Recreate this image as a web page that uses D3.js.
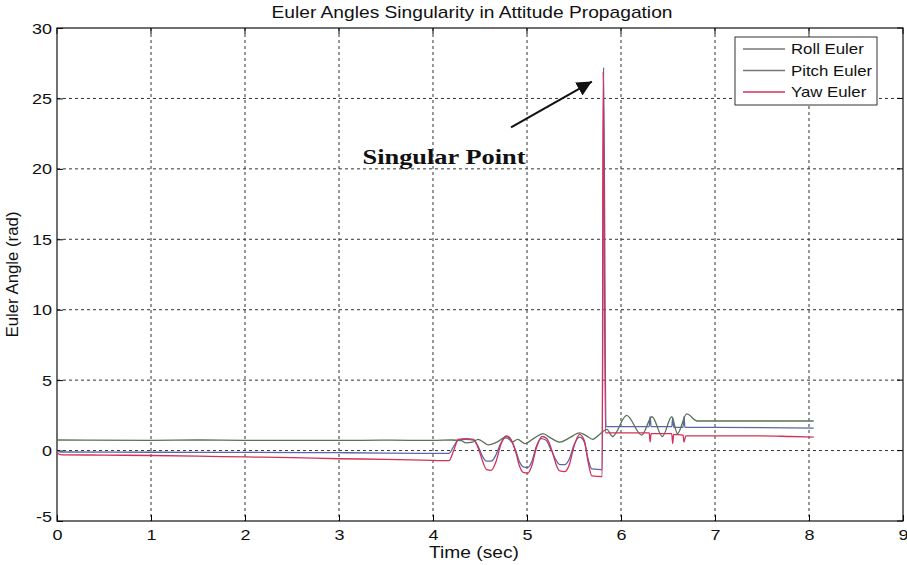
<!DOCTYPE html>
<html>
<head>
<meta charset="utf-8">
<script src="https://cdn.jsdelivr.net/npm/d3@7/dist/d3.min.js"></script>
<style>
  html, body { margin: 0; padding: 0; background: #fff; }
  svg { display: block; }
</style>
</head>
<body>
<svg id="chart" width="907" height="565"></svg>
<script>
// ---- data ----
const title = "Euler Angles Singularity in Attitude Propagation";
const xLabel = "Time (sec)";
const yLabel = "Euler Angle (rad)";
const xTicks = [0, 1, 2, 3, 4, 5, 6, 7, 8, 9];
const yTicks = [-5, 0, 5, 10, 15, 20, 25, 30];
const seriesNames = ["Roll Euler", "Pitch Euler", "Yaw Euler"];

const rollT = [0, 0.05, 1, 2, 3, 3.5, 4.0, 4.17, 4.22, 4.27, 4.35, 4.43, 4.48, 4.53, 4.57, 4.62, 4.67, 4.72, 4.77, 4.83, 4.88, 4.92, 4.96, 5.01, 5.05, 5.10, 5.15, 5.20, 5.26, 5.31, 5.35, 5.40, 5.45, 5.50, 5.56, 5.61, 5.65, 5.69, 5.80, 5.815, 5.84, 5.85, 6.3, 6.31, 6.32, 6.54, 6.55, 6.56, 6.66, 6.67, 6.68, 7.0, 8.05];
const rollV = [-0.05, -0.1, -0.12, -0.13, -0.15, -0.18, -0.2, -0.2, 0.3, 0.75, 0.8, 0.75, 0.3, -0.45, -0.75, -0.75, -0.3, 0.5, 0.9, 0.7, 0.0, -0.8, -1.15, -1.2, -0.8, 0.3, 0.85, 0.75, 0.0, -0.7, -1.0, -1.0, -0.6, 0.4, 0.95, 0.6, -0.6, -1.3, -1.35, 27.2, 1.7, 1.7, 1.7, 2.4, 1.7, 1.7, 2.3, 1.65, 1.65, 2.4, 1.65, 1.65, 1.6];

const pitchT = [0, 1, 1.5, 2, 3, 3.5, 4.0, 4.2, 4.3, 4.35, 4.42, 4.48, 4.59, 4.68, 4.79, 4.84, 4.9, 4.98, 5.08, 5.17, 5.25, 5.35, 5.45, 5.56, 5.62, 5.7, 5.78, 5.85, 5.91, 6.06, 6.22, 6.33, 6.44, 6.54, 6.60, 6.70, 6.81, 8.05];
const pitchV = [0.75, 0.72, 0.75, 0.72, 0.72, 0.74, 0.72, 0.75, 0.7, 0.55, 0.6, 0.8, 0.4, 0.6, 1.0, 0.6, 0.8, 0.5, 0.9, 1.2, 0.9, 0.6, 0.9, 1.25, 1.1, 0.8, 1.2, 1.5, 1.0, 2.5, 1.1, 2.4, 1.0, 2.4, 1.2, 2.6, 2.1, 2.1];

const yawT = [0, 0.05, 0.5, 1, 1.5, 2, 2.5, 3, 3.5, 4.0, 4.17, 4.22, 4.27, 4.35, 4.43, 4.48, 4.53, 4.57, 4.62, 4.67, 4.72, 4.78, 4.83, 4.88, 4.92, 4.96, 5.01, 5.05, 5.10, 5.16, 5.21, 5.27, 5.31, 5.35, 5.40, 5.45, 5.50, 5.56, 5.61, 5.65, 5.69, 5.80, 5.81, 5.835, 6.3, 6.31, 6.32, 6.54, 6.55, 6.56, 6.66, 6.67, 6.69, 7.5, 7.8, 8.05];
const yawV = [-0.2, -0.3, -0.32, -0.35, -0.4, -0.45, -0.5, -0.58, -0.62, -0.7, -0.72, 0.0, 0.8, 0.85, 0.8, 0.2, -0.8, -1.35, -1.4, -0.8, 0.4, 1.05, 0.8, -0.1, -1.1, -1.55, -1.6, -1.1, 0.2, 1.0, 0.85, -0.1, -1.0, -1.45, -1.5, -1.0, 0.3, 1.15, 0.7, -0.8, -1.8, -1.85, 26.9, 1.25, 1.25, 0.6, 1.2, 1.2, 0.5, 1.15, 1.1, 0.6, 1.05, 1.05, 1.0, 0.95];

const annotationText = "Singular Point";
const annotationAt = [3.25, 20.35];          // text anchor (time, angle)
const arrowFrom = [4.83, 22.95];
const arrowTo = [5.69, 26.2];

// ---- layout ----
const W = 907, H = 565;
const m = { left: 57, right: 4, top: 28, bottom: 44 };
const svg = d3.select("#chart");
const x = d3.scaleLinear().domain([0, 9]).range([m.left, W - m.right]);
const y = d3.scaleLinear().domain([-5, 30]).range([H - m.bottom, m.top]);

const colors = ["#5b66a8", "#587258", "#d4305a"];
const font = "Liberation Sans, Arial, sans-serif";
const SX = 1.2; // the reference text is horizontally stretched
const fmt = d => String(d); // plain hyphen minus as in the reference

function hText(g, px, py, str, size, anchor) {
  return g.append("text")
    .attr("transform", `translate(${px},${py}) scale(${SX},1)`)
    .attr("text-anchor", anchor)
    .attr("font-family", font).attr("font-size", size).attr("fill", "#111")
    .text(str);
}

// grid
const grid = svg.append("g");
grid.selectAll("line.gx").data(xTicks.slice(1, -1)).join("line")
  .attr("x1", d => x(d)).attr("x2", d => x(d))
  .attr("y1", y(30)).attr("y2", y(-5))
  .attr("stroke", "#333").attr("stroke-width", 1).attr("stroke-dasharray", "3,3");
grid.selectAll("line.gy").data(yTicks.slice(1, -1)).join("line")
  .attr("y1", d => y(d)).attr("y2", d => y(d))
  .attr("x1", x(0)).attr("x2", x(9))
  .attr("stroke", "#333").attr("stroke-width", 1).attr("stroke-dasharray", "3,3");

// axes (ticks drawn by d3 axes, labels re-set with stretch)
const xAxis = d3.axisBottom(x).tickValues(xTicks).tickSize(-6).tickFormat(fmt);
const yAxis = d3.axisLeft(y).tickValues(yTicks).tickSize(-6).tickFormat(fmt);
const gx = svg.append("g").attr("transform", `translate(0,${y(-5)})`).call(xAxis);
const gy = svg.append("g").attr("transform", `translate(${x(0)},0)`).call(yAxis);
[gx, gy].forEach(g => {
  g.select(".domain").remove();
  g.selectAll("line").attr("stroke", "#000");
  g.selectAll("text").remove();
});
gx.selectAll(".tick").each(function(d) {
  hText(d3.select(this), 0, 19, fmt(d), 15, "middle");
});
gy.selectAll(".tick").each(function(d) {
  hText(d3.select(this), -5, d === -5 ? 0 : 5, fmt(d), 15, "end");
});
// top/right ticks
svg.append("g").selectAll("line").data(xTicks).join("line")
  .attr("x1", d => x(d)).attr("x2", d => x(d)).attr("y1", y(30)).attr("y2", y(30) + 6).attr("stroke", "#000");
svg.append("g").selectAll("line").data(yTicks).join("line")
  .attr("y1", d => y(d)).attr("y2", d => y(d)).attr("x1", x(9)).attr("x2", x(9) - 6).attr("stroke", "#000");

// frame
svg.append("rect").attr("x", x(0)).attr("y", y(30))
  .attr("width", x(9) - x(0)).attr("height", y(-5) - y(30))
  .attr("fill", "none").attr("stroke", "#111").attr("stroke-width", 1.2);

// lines
const seriesT = [rollT, pitchT, yawT];
const seriesV = [rollV, pitchV, yawV];
const line = d3.line().x(d => x(d[0])).y(d => y(d[1])).curve(d3.curveMonotoneX);
seriesT.forEach((ts, i) => {
  const pts = ts.map((t, j) => [t, seriesV[i][j]]);
  svg.append("path").datum(pts)
    .attr("d", line)
    .attr("fill", "none")
    .attr("stroke", colors[i])
    .attr("stroke-width", 1.3);
});

// title & labels
hText(svg, x(4.5) - 8, 18, title, 16, "middle");
hText(svg, x(4.5) - 6, 558, xLabel, 16, "middle");
svg.append("text").attr("transform", `translate(18,${y(12.5)}) rotate(-90) scale(1.05,1)`).attr("text-anchor", "middle")
  .attr("font-family", font).attr("font-size", 16).attr("fill", "#111").text(yLabel);

// legend
const lg = svg.append("g").attr("transform", "translate(735,37)");
lg.append("rect").attr("width", 142).attr("height", 68).attr("fill", "#fff").attr("stroke", "#333").attr("stroke-width", 1);
seriesNames.forEach((n, i) => {
  const yy = 12 + i * 21.5;
  lg.append("line").attr("x1", 8).attr("x2", 50).attr("y1", yy).attr("y2", yy)
    .attr("stroke", i === 2 ? colors[2] : "#777").attr("stroke-width", 1.3);
  hText(lg, 56, yy + 5, n, 14, "start");
});

// annotation
const defs = svg.append("defs");
defs.append("marker").attr("id", "arrow").attr("viewBox", "0 0 10 10")
  .attr("refX", 10).attr("refY", 5).attr("markerWidth", 15).attr("markerHeight", 15)
  .attr("markerUnits", "userSpaceOnUse").attr("orient", "auto")
  .append("path").attr("d", "M0,0 L10,5 L0,10 Z").attr("fill", "#111");
svg.append("line")
  .attr("x1", x(arrowFrom[0])).attr("y1", y(arrowFrom[1]))
  .attr("x2", x(arrowTo[0])).attr("y2", y(arrowTo[1]))
  .attr("stroke", "#111").attr("stroke-width", 2).attr("marker-end", "url(#arrow)");
svg.append("text")
  .attr("transform", `translate(${x(annotationAt[0])},${y(annotationAt[1])}) scale(${SX},1)`)
  .attr("font-family", "Liberation Serif, Times New Roman, serif").attr("font-weight", "bold")
  .attr("font-size", 22).attr("fill", "#111").text(annotationText);
</script>
</body>
</html>
